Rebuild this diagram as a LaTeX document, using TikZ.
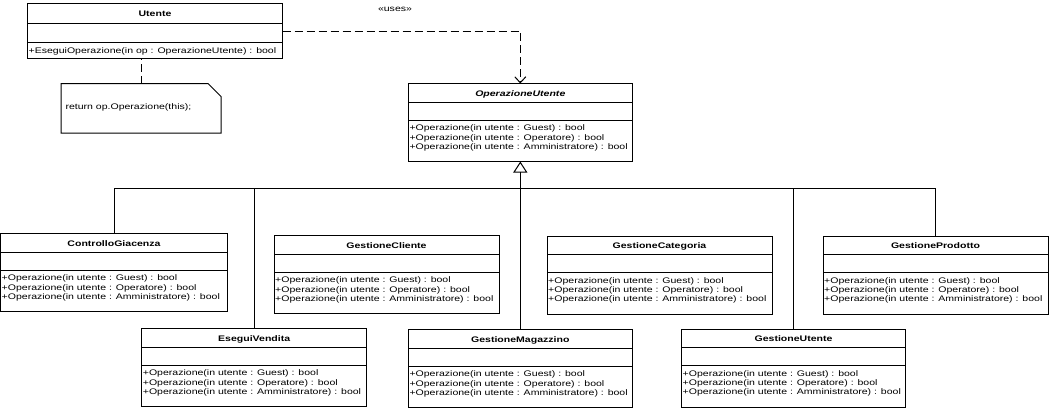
\documentclass[tikz,border=0pt]{standalone}
\usepackage{fontspec}
\usetikzlibrary{arrows.meta}
\newfontfamily\umlfont[FakeStretch=1.3]{Liberation Sans}
\newcommand\umlcls[6]{%
  \node[clsbox, minimum width=#4pt, anchor=north west] (#1) at (#2,#3) {};
  \draw[uline] ([yshift=-18.7pt]#1.north west) -- ([yshift=-18.7pt]#1.north east);
  \draw[uline] ([yshift=-36.7pt]#1.north west) -- ([yshift=-36.7pt]#1.north east);
  \node[txt, anchor=base] (#1-t) at ([yshift=-12.6pt]#1.north) {#5#6};
  \node[txt, anchor=base west] (#1-o1) at ([xshift=1.2pt,yshift=-47.3pt]#1.north west) {+Operazione(in utente : Guest) : bool};
  \node[txt, anchor=base west] (#1-o2) at ([xshift=1.2pt,yshift=-56.6pt]#1.north west) {+Operazione(in utente : Operatore) : bool};
  \node[txt, anchor=base west] (#1-o3) at ([xshift=1.2pt,yshift=-65.9pt]#1.north west) {+Operazione(in utente : Amministratore) : bool};
}
\begin{document}
\begin{tikzpicture}[x=1pt,y=-1pt,
  uline/.style={line width=1pt, draw=black},
  clsbox/.style={uline, rectangle, minimum height=78pt, inner sep=0pt, outer sep=0pt},
  txt/.style={inner sep=0pt, outer sep=0pt, font=\umlfont\fontsize{8.1}{9.3}\selectfont},
  dep/.style={uline, dash pattern=on 8pt off 4pt},
  gen/.style={uline, -{Triangle[open, length=11pt, width=14pt, line width=1pt]}},
  depar/.style={dep, -{Straight Barb[length=6pt, width=11pt, line width=1pt]}}]
\fill[white] (0,0) rectangle (1049,408);
\useasboundingbox (0,0) rectangle (1049,408);

% Utente
\node[uline, rectangle, minimum width=255pt, minimum height=55pt, inner sep=0pt, outer sep=0pt, anchor=north west] (utente) at (27.5,3.5) {};
\draw[uline] ([yshift=-20pt]utente.north west) -- ([yshift=-20pt]utente.north east);
\draw[uline] ([yshift=-38.5pt]utente.north west) -- ([yshift=-38.5pt]utente.north east);
\node[txt, anchor=base] (utente-t) at ([yshift=-13.2pt]utente.north) {\bfseries Utente};
\node[txt, anchor=base west] (utente-o1) at ([xshift=1.2pt,yshift=-49.5pt]utente.north west) {+EseguiOperazione(in op : OperazioneUtente) : bool};

% note
\node[inner sep=0pt, outer sep=0pt, minimum width=160pt, minimum height=49.5pt, anchor=north west] (note) at (61,83.5) {};
\draw[uline] (note.north west) -- ([xshift=-13pt]note.north east) -- ([yshift=-13pt]note.north east) -- (note.south east) -- (note.south west) -- cycle;
\node[txt, anchor=base west] (note-t) at ([xshift=4.5pt,yshift=-26pt]note.north west) {return op.Operazione(this);};

% abstract class
\umlcls{opu}{408.3}{83.5}{224}{\bfseries\itshape}{OperazioneUtente}

% subclasses
\umlcls{cg}{0.5}{233.5}{227}{\bfseries}{ControlloGiacenza}
\umlcls{gc}{274}{235.5}{225}{\bfseries}{GestioneCliente}
\umlcls{gcat}{547}{236}{225}{\bfseries}{GestioneCategoria}
\umlcls{gp}{823}{236}{225}{\bfseries}{GestioneProdotto}
\umlcls{ev}{141.7}{328.5}{225}{\bfseries}{EseguiVendita}
\umlcls{gm}{408.3}{329.5}{224}{\bfseries}{GestioneMagazzino}
\umlcls{gu}{681.5}{329}{224}{\bfseries}{GestioneUtente}

% dependency
\draw[depar] (utente.east) -| (opu.north);
\node[txt, anchor=base] (uses) at (395,11.5) {«uses»};

% note link
\draw[dep] (note.north) -- (note.north |- utente.south);

% generalization tree
\coordinate (bus) at (520,188);
\draw[uline] (cg.north) -- (cg.north |- bus) -- (gp.north |- bus) -- (gp.north);
\draw[uline] (ev.north) -- (ev.north |- bus);
\draw[uline] (gu.north) -- (gu.north |- bus);
\draw[gen] (gm.north) -- (opu.south);
\end{tikzpicture}
\end{document}
